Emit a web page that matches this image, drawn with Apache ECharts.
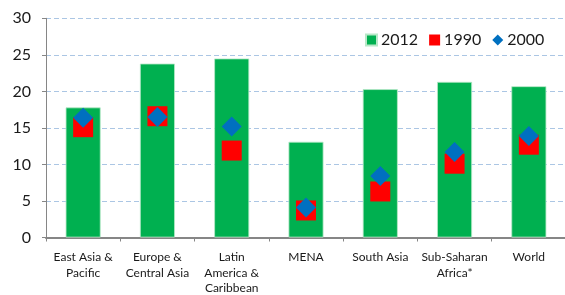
<!DOCTYPE html>
<html>
<head>
<meta charset="utf-8">
<script src="https://cdn.jsdelivr.net/npm/echarts@6/dist/echarts.min.js"></script>
<style>
html,body{margin:0;padding:0;background:#fff;}
#c{width:565px;height:295px;}
</style>
</head>
<body>
<div id="c"></div>
<script>
var categories = ["East Asia &\nPacific", "Europe &\nCentral Asia", "Latin\nAmerica &\nCaribbean", "MENA", "South Asia", "Sub-Saharan\nAfrica*", "World"];
var values2012 = [17.8, 23.8, 24.5, 13.1, 20.3, 21.3, 20.7];
var values1990 = [15.1, 16.6, 11.9, 3.7, 6.3, 10.1, 12.7];
var values2000 = [16.4, 16.5, 15.2, 4.1, 8.4, 11.7, 13.9];
var yTicks = [0, 5, 10, 15, 20, 25, 30];

var FONT = 'Lato, "Noto Sans", sans-serif';
var chart = echarts.init(document.getElementById('c'), null, {renderer: 'canvas'});
chart.setOption({
  animation: false,
  backgroundColor: '#ffffff',
  legend: {
    data: [
      {name: '2012', icon: 'rect'},
      {name: '1990', icon: 'rect'},
      {name: '2000', icon: 'diamond'}
    ],
    left: 360, top: 27,
    itemWidth: 11, itemHeight: 11, itemGap: 11,
    textStyle: {fontFamily: FONT, fontSize: 16, color: '#1a1a1a', padding: [0,0,0,-1]},
    selectedMode: false
  },
  grid: {left: 46, right: -1, top: 18.3, bottom: 57.5, containLabel: false, outerBoundsMode: 'none'},
  xAxis: {
    type: 'category',
    data: categories,
    axisLine: {show: true, lineStyle: {color: '#868686', width: 2}},
    axisTick: {show: true, length: 4, lineStyle: {color: '#868686', width: 1}},
    axisLabel: {interval: 0, fontFamily: FONT, fontSize: 12, lineHeight: 15.5, color: '#1a1a1a', margin: 12},
    splitLine: {show: false}
  },
  yAxis: {
    type: 'value',
    min: yTicks[0], max: yTicks[yTicks.length - 1], interval: 5,
    axisLine: {show: true, lineStyle: {color: '#868686', width: 1}},
    axisTick: {show: true, length: 4, lineStyle: {color: '#868686'}},
    axisLabel: {fontFamily: FONT, fontSize: 16, color: '#1a1a1a', margin: 15},
    splitLine: {show: true, lineStyle: {color: '#abc6e4', width: 1, type: [5, 3]}}
  },
  series: [
    {
      name: '2012', type: 'bar', data: values2012, barWidth: 35,
      itemStyle: {color: '#00b050', borderColor: '#b8e8c8', borderWidth: 0.8},
      z: 2
    },
    {
      name: '1990', type: 'scatter', data: values1990, symbol: 'rect', symbolSize: 20,
      itemStyle: {color: '#ff0000', opacity: 1}, z: 3
    },
    {
      name: '2000', type: 'scatter', data: values2000, symbol: 'diamond', symbolSize: 20,
      itemStyle: {color: '#0070c0', opacity: 1}, z: 4
    }
  ]
});
</script>
</body>
</html>
